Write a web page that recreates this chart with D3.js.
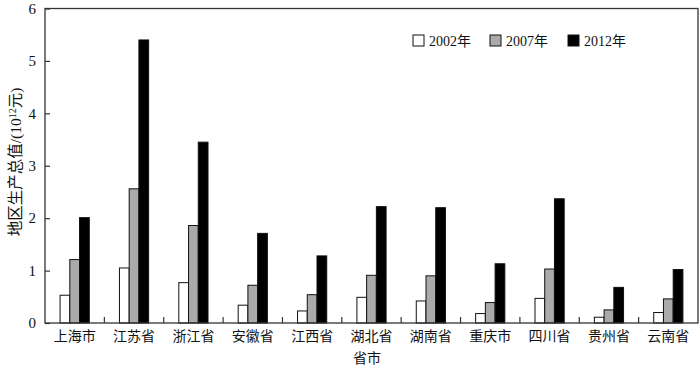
<!DOCTYPE html>
<html><head><meta charset="utf-8">
<script src="https://cdn.jsdelivr.net/npm/d3@7"></script>
<style>
body{margin:0;background:#fff;}
svg{display:block;}
text{font-family:"Liberation Serif","Noto Sans CJK SC",serif;fill:#111;}
</style></head>
<body><svg id="c" width="700" height="366"></svg>
<script>
const categories = ["上海市","江苏省","浙江省","安徽省","江西省","湖北省","湖南省","重庆市","四川省","贵州省","云南省"];
const years = ["2002年","2007年","2012年"];
const v2002 = [0.53,1.05,0.77,0.34,0.23,0.49,0.42,0.18,0.47,0.11,0.20];
const v2007 = [1.21,2.56,1.86,0.72,0.54,0.91,0.90,0.39,1.03,0.25,0.46];
const v2012 = [2.01,5.40,3.45,1.71,1.28,2.22,2.20,1.13,2.37,0.68,1.02];
const yTicks = [0,1,2,3,4,5,6];
const colors = ["#ffffff","#aaaaaa","#000000"];

const series = [v2002, v2007, v2012];
const svg = d3.select("#c");
const L = 45, R = 698, T = 8.5, B = 323;
const x = d3.scaleBand().domain(categories).range([L, R]);
const xi = d3.scaleBand().domain(years).range([0, x.bandwidth()]).paddingOuter(1.55).paddingInner(0);
const y = d3.scaleLinear().domain([0, 6]).range([B, T]);
const axisColor = "#333";

// bars
const g = svg.append("g");
categories.forEach((c, i) => {
  years.forEach((yr, k) => {
    const v = series[k][i];
    g.append("rect")
      .attr("x", x(c) + xi(yr))
      .attr("y", y(v))
      .attr("width", xi.bandwidth())
      .attr("height", B - y(v))
      .attr("fill", colors[k])
      .attr("stroke", "#111")
      .attr("stroke-width", 1);
  });
});

// frame
svg.append("rect").attr("x", L).attr("y", T).attr("width", R - L).attr("height", B - T)
  .attr("fill", "none").attr("stroke", axisColor).attr("stroke-width", 1.3);

// y axis
const ya = svg.append("g").attr("transform", `translate(${L},0)`)
  .call(d3.axisLeft(y).tickValues(yTicks).tickFormat(d3.format("d")).tickSize(-5).tickPadding(9));
ya.select(".domain").remove();
ya.selectAll("line").attr("stroke", axisColor).attr("stroke-width", 1.2);
ya.selectAll("text").style("font-size", "15px").attr("fill", "#111");

// x axis
const xa = svg.append("g").attr("transform", `translate(0,${B})`)
  .call(d3.axisBottom(x).tickSize(0).tickPadding(8));
xa.select(".domain").remove();
xa.selectAll("text").style("font-size", "14px").attr("fill", "#111");
// boundary ticks (inward)
svg.append("g").selectAll("line").data(categories.slice(1)).join("line")
  .attr("x1", d => x(d)).attr("x2", d => x(d))
  .attr("y1", B).attr("y2", B - 6)
  .attr("stroke", axisColor).attr("stroke-width", 1.2);

// axis titles
svg.append("text").attr("transform", "translate(21,162) rotate(-90)")
  .attr("text-anchor", "middle").style("font-size", "15.5px")
  .call(t => {
    t.append("tspan").text("地区生产总值/(10");
    t.append("tspan").text("12").attr("dy", -5).style("font-size", "10px");
    t.append("tspan").text("元)").attr("dy", 5);
  });
svg.append("text").attr("x", 367).attr("y", 363).attr("text-anchor", "middle")
  .style("font-size", "14px").text("省市");

// legend
const legX = [413, 490, 568];
const leg = svg.append("g");
years.forEach((yr, k) => {
  leg.append("rect").attr("x", legX[k]).attr("y", 35).attr("width", 11).attr("height", 11)
    .attr("fill", colors[k]).attr("stroke", "#111").attr("stroke-width", 1);
  leg.append("text").attr("x", legX[k] + 16).attr("y", 46).style("font-size", "14px").text(yr);
});
</script></body></html>
